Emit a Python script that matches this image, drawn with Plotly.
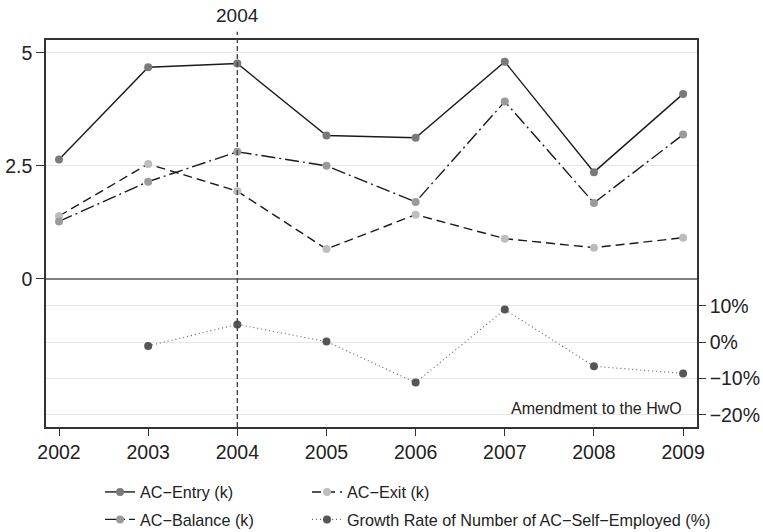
import plotly.graph_objects as go

years = [2002, 2003, 2004, 2005, 2006, 2007, 2008, 2009]
entry = [2.64, 4.68, 4.76, 3.17, 3.12, 4.80, 2.36, 4.09]
exit_ = [1.39, 2.54, 1.94, 0.66, 1.42, 0.89, 0.69, 0.91]
balance = [1.27, 2.15, 2.81, 2.50, 1.70, 3.92, 1.68, 3.19]
growth_years = [2003, 2004, 2005, 2006, 2007, 2008, 2009]
growth = [-1.0, 4.9, 0.2, -11.1, 9.0, -6.6, -8.6]

left_ticks = [0, 2.5, 5]
left_labels = ["0", "2.5", "5"]
right_ticks = [-20, -10, 0, 10]
right_labels = ["\u221220%", "\u221210%", "0%", "10%"]

FONT = "Liberation Sans, Arial, Helvetica, sans-serif"
TXT = "#222222"

fig = go.Figure()
fig.add_trace(go.Scatter(x=years, y=entry, name="AC\u2212Entry (k)", mode="lines+markers",
                         line=dict(color="#1a1a1a", width=1.4),
                         marker=dict(color="#7a7a7a", size=8), legend="legend"))
fig.add_trace(go.Scatter(x=years, y=exit_, name="AC\u2212Exit (k)", mode="lines+markers",
                         line=dict(color="#1a1a1a", width=1.4, dash="9px,5px"),
                         marker=dict(color="#bdbdbd", size=8), legend="legend"))
fig.add_trace(go.Scatter(x=years, y=balance, name="AC\u2212Balance (k)", mode="lines+markers",
                         line=dict(color="#1a1a1a", width=1.4, dash="14px,4px,2px,4px"),
                         marker=dict(color="#9a9a9a", size=8), legend="legend2"))
fig.add_trace(go.Scatter(x=growth_years, y=growth, yaxis="y2",
                         name="Growth Rate of Number of AC\u2212Self\u2212Employed (%)",
                         mode="lines+markers",
                         line=dict(color="#666666", width=1.2, dash="1px,3px"),
                         marker=dict(color="#555555", size=8), legend="legend3"))

fig.add_shape(type="line", xref="x", yref="paper", x0=2004, x1=2004, y0=0, y1=1.021,
              line=dict(color="#444444", width=1.4, dash="5px,3px"))
fig.add_annotation(x=2004, xref="x", y=1.063, yref="paper", text="2004", showarrow=False,
                   xanchor="center", yanchor="middle", font=dict(family=FONT, size=19, color=TXT))
fig.add_annotation(x=2009.01, xref="x", y=-18.1, yref="y2", text="Amendment to the HwO",
                   showarrow=False, xanchor="right", yanchor="middle",
                   font=dict(family=FONT, size=16, color=TXT))

legend_common = dict(orientation="h", xanchor="left", yanchor="middle",
                     font=dict(family=FONT, size=16.2, color=TXT), bgcolor="rgba(0,0,0,0)")

fig.update_layout(
    width=763, height=532,
    margin=dict(l=46, r=66, t=40, b=105, autoexpand=False),
    plot_bgcolor="white", paper_bgcolor="white",
    font=dict(family=FONT, size=19, color=TXT),
    xaxis=dict(range=[2001.854, 2009.156], tickvals=years, showgrid=False, zeroline=False,
               showline=True, mirror=True, linecolor="#333333", linewidth=1.5,
               ticks="outside", ticklen=7, tickcolor="#333333", tickfont=dict(size=19.5)),
    yaxis=dict(range=[-3.274, 5.281], tickvals=left_ticks, ticktext=left_labels,
               showgrid=True, gridcolor="#e6e6e6", gridwidth=1.3,
               zeroline=True, zerolinecolor="#808080", zerolinewidth=1.6,
               showline=True, mirror=True, linecolor="#333333", linewidth=1.5,
               ticks="outside", ticklen=8, tickcolor="#333333", tickfont=dict(size=19.5)),
    yaxis2=dict(range=[-23.33, 83.2], tickvals=right_ticks, ticktext=right_labels,
                overlaying="y", side="right", anchor="x",
                showgrid=True, gridcolor="#e6e6e6", gridwidth=1.3, zeroline=False,
                showline=True, linecolor="#333333", linewidth=1.5,
                ticks="outside", ticklen=7, tickcolor="#333333", tickfont=dict(size=19.5)),
    legend=dict(x=0.083, y=-0.169, entrywidth=162, entrywidthmode="pixels", **legend_common),
    legend2=dict(x=0.083, y=-0.240, **legend_common),
    legend3=dict(x=0.4009, y=-0.240, **legend_common),
    showlegend=True,
)

fig.write_html("out.html")
